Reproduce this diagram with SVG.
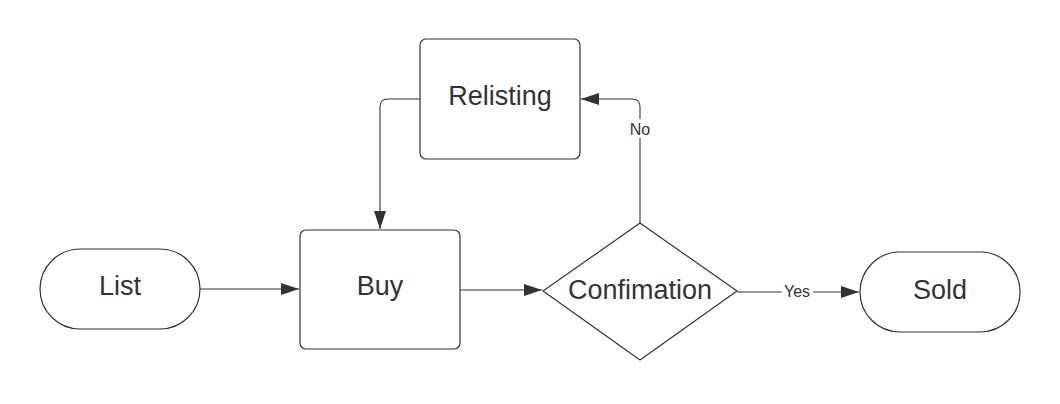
<svg xmlns="http://www.w3.org/2000/svg" width="1060" height="404" viewBox="0 0 1060 404">
<style>
.shape{fill:#fff;stroke:#333;stroke-width:1.2}
.lbl{font-family:"Liberation Sans",Arial,sans-serif;font-size:27px;fill:#333;text-anchor:middle}
.small{font-family:"Liberation Sans",Arial,sans-serif;font-size:16px;fill:#333;text-anchor:middle}
.edge{fill:none;stroke:#333;stroke-width:1.1}
</style>
<defs>
<marker id="arr" viewBox="0 0 18 12" refX="18" refY="6" markerWidth="18" markerHeight="12" markerUnits="userSpaceOnUse" orient="auto">
<path d="M0,0 L18,6 L0,12 Z" fill="#333"/>
</marker>
</defs>
<rect width="1060" height="404" fill="#fff"/>
<g id="edges">
<path class="edge" d="M200,289 L299,289" marker-end="url(#arr)"/>
<path class="edge" d="M460,290 L542,290" marker-end="url(#arr)"/>
<path class="edge" d="M737,292 L859,292" marker-end="url(#arr)"/>
<path class="edge" d="M640,223 L640,107 Q640,99 632,99 L581,99" marker-end="url(#arr)"/>
<path class="edge" d="M420,99 L388,99 Q380,99 380,107 L380,229" marker-end="url(#arr)"/>
<rect x="782" y="283" width="31" height="17" fill="#fff"/>
<text class="small" x="797" y="297">Yes</text>
<rect x="628" y="119" width="24" height="19" fill="#fff"/>
<text class="small" x="640" y="135">No</text>
</g>
<g id="list">
<rect class="shape" x="40" y="249" width="160" height="80" rx="40" ry="40"/>
<text class="lbl" x="120" y="295">List</text>
</g>
<g id="buy">
<rect class="shape" x="300" y="230" width="160" height="119" rx="6" ry="6"/>
<text class="lbl" x="380" y="295">Buy</text>
</g>
<g id="confirmation">
<path class="shape" d="M543,291 L640,223 L737,291 L640,360 Z" stroke-linejoin="round"/>
<text class="lbl" x="640" y="299">Confimation</text>
</g>
<g id="sold">
<rect class="shape" x="860" y="252" width="160" height="80" rx="40" ry="40"/>
<text class="lbl" x="940" y="299">Sold</text>
</g>
<g id="relisting">
<rect class="shape" x="420" y="39" width="160" height="120" rx="6" ry="6"/>
<text class="lbl" x="500" y="105">Relisting</text>
</g>
</svg>
